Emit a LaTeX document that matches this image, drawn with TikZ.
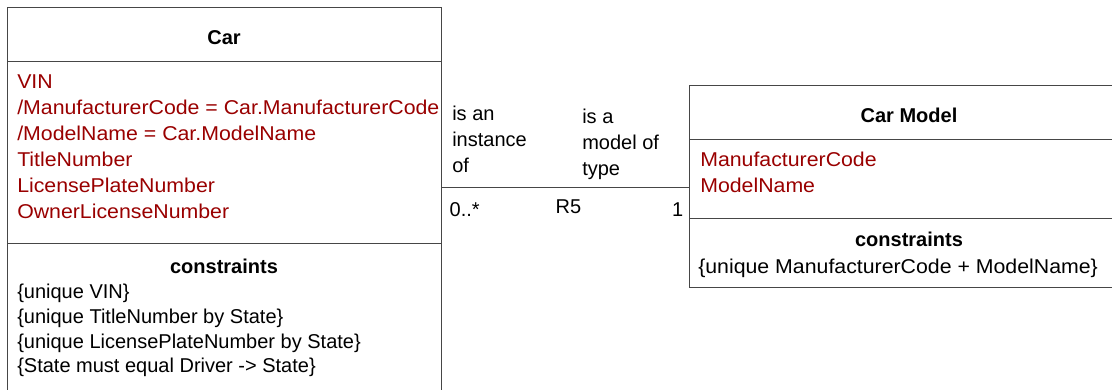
\documentclass[tikz,border=0pt]{standalone}
\usepackage{fontspec}
\setmainfont{Liberation Sans}
\newfontfamily\widefont{Liberation Sans}[FakeStretch=1.065]
\usetikzlibrary{calc,positioning}
\definecolor{attrred}{RGB}{153,0,0}
\definecolor{boxline}{RGB}{70,70,70}

\begin{document}
\begin{tikzpicture}[x=0.75pt, y=-0.75pt, node distance=0pt,
    every node/.style={font=\fontsize{15}{19.5}\selectfont}]
    \tikzset{Compartment/.style={draw=boxline, line width=0.75pt,
        inner sep=0pt, outer sep=0pt, minimum width=#1},
      ClassName/.style={anchor=base, font=\fontsize{15}{19.5}\selectfont\bfseries},
      TextBlock/.style={anchor=north west, inner sep=0pt, align=left},
      AttrBlock/.style={TextBlock, text=attrred, font=\fontsize{15}{19.5}\widefont},
      ConsBlock/.style={TextBlock, font=\fontsize{15}{18.5}\selectfont},
      Assoc/.style={draw=boxline, line width=0.75pt}}
    \useasboundingbox (0,0) rectangle (1112,389);
    \clip (0,0) rectangle (1112,389);
    % Car
    \node[Compartment=325.5pt, minimum height=40.5pt, anchor=north west] (carhead) at (7,7) {};
    \node[Compartment=325.5pt, minimum height=136.5pt, below=of carhead] (carattr) {};
    \node[Compartment=325.5pt, minimum height=120pt, below=of carattr] (carcons) {};
    \node[ClassName] (carname) at ($(carhead.north)+(0,37)$) {Car};
    \node[AttrBlock] (carattrs) at ($(carattr.north west)+(10,8.8)$)
      {\strut VIN\\/ManufacturerCode = Car.ManufacturerCode\\/ModelName = Car.ModelName\\TitleNumber\\LicensePlateNumber\\OwnerLicenseNumber};
    \node[ClassName] (carconsname) at ($(carcons.north)+(0,30)$) {constraints};
    \node[ConsBlock] (carconslist) at ($(carcons.north west)+(10,38.2)$)
      {\strut\{unique VIN\}\\\{unique TitleNumber by State\}\\\{unique LicensePlateNumber by State\}\\\{State must equal Driver -> State\}};
    % Car Model
    \node[Compartment=330pt, minimum height=40.5pt, anchor=north west] (modelhead) at (689,85) {};
    \node[Compartment=330pt, minimum height=59.25pt, below=of modelhead] (modelattr) {};
    \node[Compartment=330pt, minimum height=51.75pt, below=of modelattr] (modelcons) {};
    \node[ClassName] (modelname) at ($(modelhead.north)+(0,37)$) {Car Model};
    \node[AttrBlock] (modelattrs) at ($(modelattr.north west)+(11,8.8)$)
      {\strut ManufacturerCode\\ModelName};
    \node[ClassName] (modelconsname) at ($(modelcons.north)+(0,28)$) {constraints};
    \node[TextBlock, anchor=base west, font=\fontsize{15}{19.5}\widefont] (modelconslist) at ($(modelcons.north west)+(9,55)$)
      {\{unique ManufacturerCode + ModelName\}};
    % R5
    \coordinate (r5) at (565,187);
    \draw[Assoc] (carattr.east |- r5) -- (modelattr.west |- r5);
    \node[TextBlock] (carrole) at ($(carattr.east |- r5)+(11,-85.2)$) {\strut is an\\instance\\of};
    \node[TextBlock] (modelrole) at ($(r5)+(17,-82.2)$) {\strut is a\\model of\\type};
    \node[anchor=base west] (carmult) at ($(carattr.east |- r5)+(4,29)$) {0..*};
    \node[anchor=base west] (r5name) at ($(r5)+(-14,26)$) {R5};
    \node[anchor=base east] (modelmult) at ($(modelattr.west |- r5)+(-1,29)$) {1};
  \end{tikzpicture}
\end{document}
